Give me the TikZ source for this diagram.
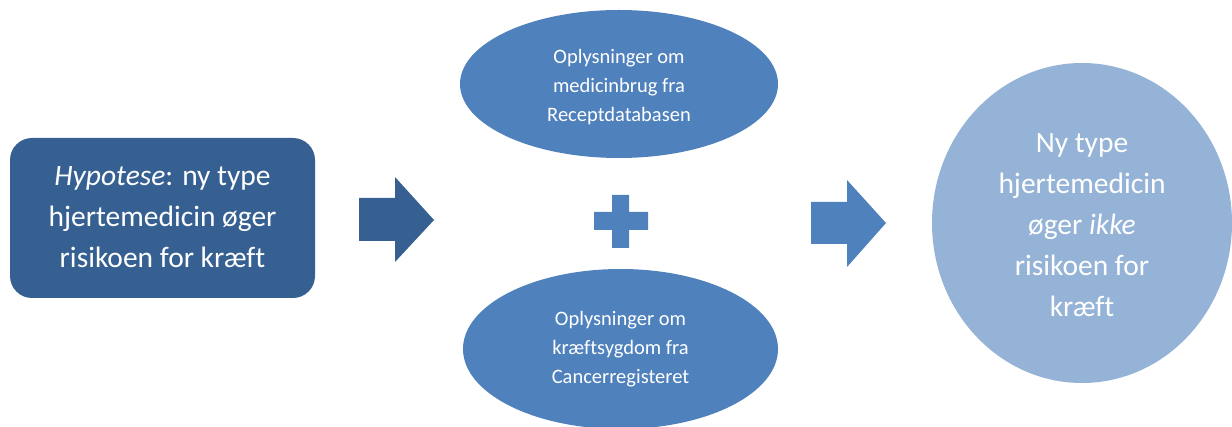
\documentclass[tikz,border=0pt]{standalone}
\usepackage{fontspec}
\setmainfont[Ligatures=NoCommon]{Carlito}
\usetikzlibrary{shapes.geometric}
\definecolor{darkblue}{HTML}{366092}
\definecolor{midblue}{HTML}{4F81BD}
\definecolor{lightblue}{HTML}{95B3D7}
\begin{document}
\begin{tikzpicture}[x=1pt,y=-1pt,
  bigtext/.style={text=white,align=center,font=\fontsize{29.5}{41}\selectfont},
  smalltext/.style={text=white,align=center,font=\fontsize{20.5}{29}\selectfont},
  blob/.style={ellipse,fill=midblue,inner sep=0pt}]
\useasboundingbox (0,0) rectangle (1232,427);

% hypothesis box
\node[fill=darkblue,rounded corners=22pt,minimum width=305pt,minimum height=160pt,inner sep=0pt]
  (hyp) at (162.5,218) {};
\node[bigtext] (hyptext) at (162.5,217) {\textit{Hypotese}: ny type\\hjertemedicin øger\\risikoen for kræft};

% first block arrow
\fill[darkblue] (359,198) -- (395,198) -- (395,177) -- (434,220) -- (395,262) -- (395,241) -- (359,241) -- cycle;

% data sources
\node[blob,minimum width=318pt,minimum height=148pt] (rx) at (619,84) {};
\node[smalltext] (rxtext) at (619,87) {Oplysninger om\\medicinbrug fra\\Receptdatabasen};
\node[blob,minimum width=315pt,minimum height=160pt] (cr) at (620.5,349) {};
\node[smalltext] (crtext) at (620.5,349) {Oplysninger om\\kræftsygdom fra\\Cancerregisteret};

% plus sign
\fill[midblue] (612,195) -- (629,195) -- (629,212) -- (648,212) -- (648,230) -- (629,230)
  -- (629,248) -- (612,248) -- (612,230) -- (594,230) -- (594,212) -- (612,212) -- cycle;

% second block arrow
\fill[midblue] (811,202) -- (847,202) -- (847,180) -- (886,223) -- (847,267) -- (847,244) -- (811,244) -- cycle;

% conclusion
\node[ellipse,fill=lightblue,minimum width=300pt,minimum height=320pt,inner sep=0pt] (res) at (1082,223) {};
\node[bigtext] (restext) at (1082,225) {Ny type\\hjertemedicin\\øger \textit{ikke}\\risikoen for\\kræft};
\end{tikzpicture}
\end{document}
